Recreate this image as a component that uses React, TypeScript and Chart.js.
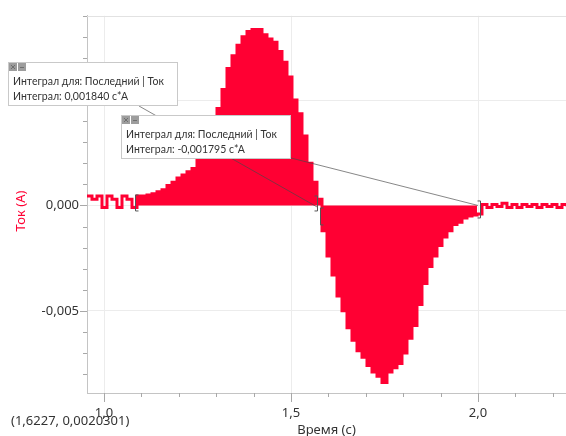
import React, { useEffect, useRef } from 'react';
import { Chart, registerables } from 'chart.js';

Chart.register(...registerables);

// Sampling of the current trace (time in s)
const SAMPLE_START = 0.9545;
const SAMPLE_STEP = 0.013369;

// Current in mA, one value per sample
const CURRENT_MA = [
  0.45, 0.3, 0.45, -0.1, 0.45, 0.3, -0.1, 0.45, 0.3, -0.1,
  0.45, 0.45, 0.5, 0.55, 0.65, 0.75, 0.95, 1.1, 1.3, 1.45,
  1.6, 1.75, 2.2, 2.6, 3.1, 3.9, 4.6, 5.5, 6.5, 7.1,
  7.6, 8.0, 8.25, 8.35, 8.35, 8.1, 7.9, 7.75, 7.3, 6.8,
  6.1, 5.0, 4.35, 3.3, 2.0, 1.1, 0.3, -1.2, -2.4, -3.3,
  -4.3, -5.0, -5.8, -6.4, -6.9, -7.2, -7.6, -7.9, -8.1, -8.4,
  -7.9, -7.7, -7.5, -7.0, -6.3, -5.7, -4.7, -3.7, -2.9, -2.4,
  -1.9, -1.5, -1.2, -0.9, -0.8, -0.6, -0.5, -0.45, -0.4, 0.05,
  -0.1, 0.05, -0.05, 0.1, -0.1, 0.05, -0.1, 0.05, -0.05, 0.05,
  -0.1, 0.05, -0.05, 0.05, -0.1, 0.05, -0.05,
];

const X_MIN = 0.9545;
const X_MAX = 2.2353;
const Y_MIN = -0.0089;
const Y_MAX = 0.009;
const X_MAJOR = 0.5;
const X_MINOR = 0.1;
const Y_MAJOR = 0.005;
const Y_MINOR = 0.001;

// Integral regions (s)
const INTEGRAL_1 = [1.0856, 1.572];
const INTEGRAL_2 = [1.572, 2.0];
const INTEGRAL_LABELS = [
  ['Интеграл для: Последний | Ток', 'Интеграл: 0,001840 с*А'],
  ['Интеграл для: Последний | Ток', 'Интеграл: -0,001795 с*А'],
];
const X_TITLE = 'Время (с)';
const Y_TITLE = 'Ток (А)';
const CURSOR_TEXT = '(1,6227, 0,0020301)';

const RED = '#ff0033';
const FONT = '"Noto Sans", sans-serif';
const BOX_FONT = 'Lato, "Noto Sans", sans-serif';

const fmt = (v: number, d: number) => {
  if (Math.abs(v) < 1e-12) v = 0;
  return v.toFixed(d).replace('.', ',');
};

const overlay = {
  id: 'overlay',
  afterDraw(chart: any) {
    const { ctx, chartArea: a, scales } = chart;
    const xs = scales.x;
    const ys = scales.y;
    ctx.save();

    // top frame line
    ctx.strokeStyle = '#e2e2e2';
    ctx.lineWidth = 1;
    ctx.beginPath();
    ctx.moveTo(a.left, Math.round(a.top) + 0.5);
    ctx.lineTo(a.right, Math.round(a.top) + 0.5);
    ctx.stroke();

    // tick marks
    ctx.strokeStyle = '#a8a8a8';
    ctx.beginPath();
    for (let k = Math.ceil(Y_MIN / Y_MINOR - 1e-6); k <= Math.floor(Y_MAX / Y_MINOR + 1e-6); k++) {
      const v = k * Y_MINOR;
      const py = Math.round(ys.getPixelForValue(v)) + 0.5;
      const len = k % 5 === 0 ? 7 : 4;
      ctx.moveTo(a.left - len, py);
      ctx.lineTo(a.left, py);
    }
    for (let k = Math.ceil(X_MIN / X_MINOR - 1e-6); k <= Math.floor(X_MAX / X_MINOR + 1e-6); k++) {
      const v = k * X_MINOR;
      const px = Math.round(xs.getPixelForValue(v)) + 0.5;
      const len = k % 5 === 0 ? 9 : 4;
      ctx.moveTo(px, a.bottom);
      ctx.lineTo(px, a.bottom + len);
    }
    ctx.stroke();

    const y0 = ys.getPixelForValue(0);

    // connector lines
    ctx.strokeStyle = 'rgba(70,70,70,0.65)';
    ctx.lineWidth = 1;
    ctx.beginPath();
    ctx.moveTo(139, 106);
    ctx.lineTo(xs.getPixelForValue(INTEGRAL_1[1]), y0 + 2);
    ctx.moveTo(291, 158);
    ctx.lineTo(xs.getPixelForValue(INTEGRAL_2[1]), y0);
    ctx.stroke();

    // integral brackets
    const bracket = (px: number, top: number, bot: number, dir: number) => {
      const x = Math.round(px) + 0.5;
      ctx.beginPath();
      ctx.moveTo(x + dir * 3, top + 0.5);
      ctx.lineTo(x, top + 0.5);
      ctx.lineTo(x, bot + 0.5);
      ctx.lineTo(x + dir * 3, bot + 0.5);
      ctx.stroke();
    };
    ctx.strokeStyle = '#555';
    bracket(xs.getPixelForValue(INTEGRAL_1[0]) - 1, y0 - 11, y0 + 5, 1);
    bracket(xs.getPixelForValue(INTEGRAL_1[1]) - 1, y0 - 10, y0 + 5, -1);
    bracket(xs.getPixelForValue(INTEGRAL_2[0]) + 2, y0 + 2, y0 + 19, 1);
    bracket(xs.getPixelForValue(INTEGRAL_2[1]) + 2, y0 - 5, y0 + 12, -1);

    // annotation boxes
    const box = (bx: number, by: number, bw: number, bh: number, lines: string[]) => {
      ctx.fillStyle = '#fff';
      ctx.fillRect(bx, by, bw, bh);
      ctx.strokeStyle = '#c9c9c9';
      ctx.strokeRect(bx + 0.5, by + 0.5, bw - 1, bh - 1);
      // icons
      ctx.fillStyle = '#9d9d9d';
      ctx.fillRect(bx + 1, by + 1, 8, 8);
      ctx.fillRect(bx + 10, by + 1, 8, 8);
      ctx.strokeStyle = '#6f6f6f';
      ctx.beginPath();
      ctx.moveTo(bx + 3, by + 3);
      ctx.lineTo(bx + 7, by + 7);
      ctx.moveTo(bx + 7, by + 3);
      ctx.lineTo(bx + 3, by + 7);
      ctx.moveTo(bx + 12, by + 5.5);
      ctx.lineTo(bx + 16, by + 5.5);
      ctx.stroke();
      ctx.fillStyle = '#333';
      ctx.font = `10.5px ${BOX_FONT}`;
      ctx.textAlign = 'left';
      ctx.textBaseline = 'middle';
      ctx.fillText(lines[0], bx + 5, by + 20);
      ctx.fillText(lines[1], bx + 5, by + 35);
    };
    box(8, 62, 170, 44, INTEGRAL_LABELS[0]);
    box(121, 115, 170, 44, INTEGRAL_LABELS[1]);

    // axis titles
    ctx.fillStyle = '#333';
    ctx.font = `13px ${FONT}`;
    ctx.textAlign = 'center';
    ctx.textBaseline = 'middle';
    ctx.fillText(X_TITLE, (a.left + a.right) / 2, 430);
    ctx.save();
    ctx.translate(21, 211);
    ctx.rotate(-Math.PI / 2);
    ctx.fillStyle = RED;
    ctx.fillText(Y_TITLE, 0, 0);
    ctx.restore();

    ctx.fillStyle = '#333';
    ctx.textAlign = 'left';
    ctx.font = `13px ${FONT}`;
    ctx.fillText(CURSOR_TEXT, 11, 421);

    ctx.restore();
  },
};

export default function App() {
  const ref = useRef<HTMLCanvasElement | null>(null);

  useEffect(() => {
    document.body.style.margin = '0';
    const canvas = ref.current;
    if (!canvas) return;
    const times = CURRENT_MA.map((_, i) => SAMPLE_START + i * SAMPLE_STEP);
    const linePts = CURRENT_MA.map((v, i) => ({ x: times[i], y: v / 1000 }));
    const fillPts = CURRENT_MA.map((v, i) => ({
      x: times[i],
      y: times[i] >= INTEGRAL_1[0] - 0.008 && times[i] <= INTEGRAL_2[1] ? v / 1000 : null,
    }));

    const chart = new Chart(canvas, {
      type: 'line',
      data: {
        datasets: [
          {
            data: linePts,
            borderColor: RED,
            borderWidth: 3,
            pointRadius: 0,
            stepped: true,
            fill: false,
          },
          {
            data: fillPts as any,
            borderColor: RED,
            backgroundColor: RED,
            borderWidth: 1,
            pointRadius: 0,
            stepped: true,
            fill: 'origin',
            spanGaps: false,
          },
        ],
      },
      options: {
        animation: false,
        responsive: false,
        events: [],
        layout: { padding: { top: 10, right: 0, left: 0, bottom: 0 } },
        plugins: { legend: { display: false }, tooltip: { enabled: false } },
        scales: {
          x: {
            type: 'linear',
            min: X_MIN,
            max: X_MAX,
            afterFit: (s: any) => { s.height = 43; },
            grid: { color: '#ececec', drawTicks: false },
            border: { color: '#c4c4c4' },
            ticks: {
              stepSize: X_MAJOR,
              includeBounds: false,
              autoSkip: false,
              maxRotation: 0,
              padding: 12,
              color: '#333',
              font: { family: FONT, size: 13 },
              callback: (v: any) => fmt(Number(v), 1),
            },
          },
          y: {
            type: 'linear',
            min: Y_MIN,
            max: Y_MAX,
            afterFit: (s: any) => { s.width = 87; },
            grid: { color: '#ececec', drawTicks: false },
            border: { color: '#c4c4c4' },
            ticks: {
              stepSize: Y_MAJOR,
              includeBounds: false,
              autoSkip: false,
              padding: 8,
              color: '#333',
              font: { family: FONT, size: 13 },
              callback: (v: any) => fmt(Number(v), 3),
            },
          },
        },
      },
      plugins: [overlay],
    });
    return () => chart.destroy();
  }, []);

  return (
    <div style={{ position: 'absolute', left: 0, top: 0, width: 566, height: 436 }}>
      <canvas ref={ref} width={566} height={436} style={{ display: 'block' }} />
    </div>
  );
}
